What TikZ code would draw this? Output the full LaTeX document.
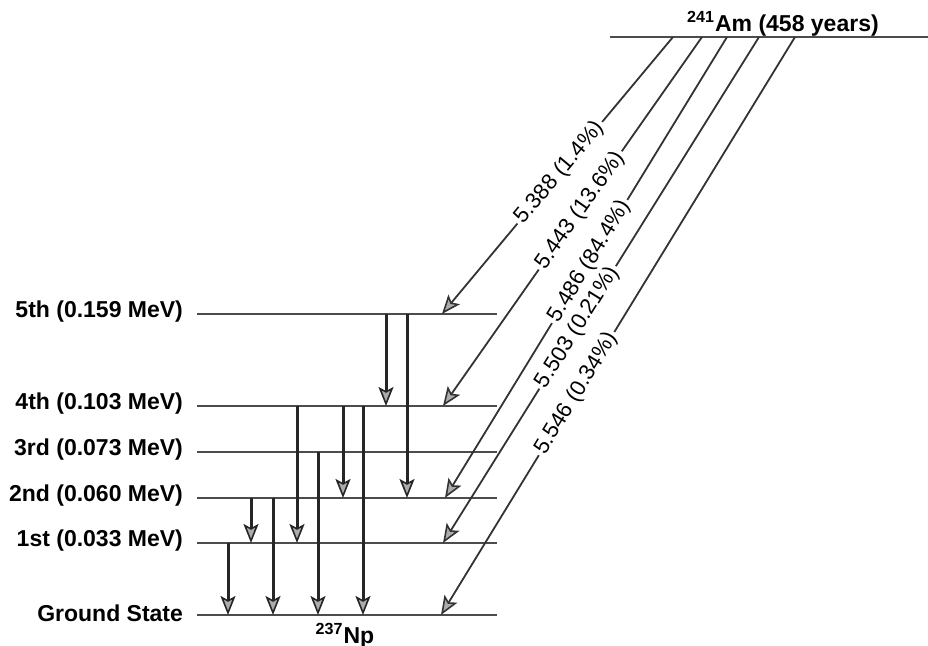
\documentclass[tikz,border=0pt]{standalone}
\usepackage{fontspec}
\setmainfont{Liberation Sans}
\usepackage{xcolor}
\usepackage{tikz}
\usetikzlibrary{arrows.meta}

\definecolor{lvlgray}{gray}{0.3}
\tikzset{
  level/.style={line width=1.3pt,draw=lvlgray},
  gam/.style={line width=1.5pt,draw=black!85,-{Stealth[length=9.5pt,width=7.5pt,inset=2pt,line width=0.8pt,fill=gray!65]}},
  alf/.style={line width=0.9pt,draw=black!80,-{Stealth[length=9.5pt,width=7.5pt,inset=2pt,line width=0.8pt,fill=gray!65]}},
  lvllab/.style={anchor=east,font=\fontsize{11.5}{13}\selectfont\bfseries},
  elab/.style={sloped,fill=white,inner sep=1.5pt,font=\fontsize{11}{13}\selectfont}
}

\begin{document}
\begin{tikzpicture}[x=0.5pt,y=-0.5pt]
\useasboundingbox (0,0) rectangle (928,646);
% daughter levels of 237Np
\foreach \n/\y/\t in {g/615/Ground State,a/543/1st (0.033 MeV),b/498/2nd (0.060 MeV),c/452/3rd (0.073 MeV),d/406/4th (0.103 MeV),e/314/5th (0.159 MeV)}{
  \draw[level](197,\y)coordinate(\n)--(497,\y);
  \node[lvllab](l\n)at(190,\y-2){\t};
}
\node[font=\fontsize{11.5}{13}\selectfont\bfseries](np)at(345,636){\textsuperscript{237}Np};
% parent level
\draw[level](610,37)coordinate(am)--(928,37);
\node[font=\fontsize{11.5}{13}\selectfont\bfseries](amlab)at(783,24){\textsuperscript{241}Am (458 years)};
% alpha decays
\draw[alf](673,37)--node[elab,pos=0.49]{5.388 (1.4\%)}(442,314);
\draw[alf](702,37)--node[elab,pos=0.47]{5.443 (13.6\%)}(443,406);
\draw[alf](727,37)--node[elab,pos=0.487]{5.486 (84.4\%)}(445,498);
\draw[alf](759,37)--node[elab,pos=0.574]{5.503 (0.21\%)}(443,543);
\draw[alf](795,37)--node[elab,pos=0.617]{5.546 (0.34\%)}(441,615);
% gamma transitions
\foreach \x/\from/\to in {386/314/406,407/314/498,297/406/543,343/406/498,363/406/615,318/452/615,251/498/543,273/498/615,228/543/615}
  \draw[gam](\x,\from)--(\x,\to);
\end{tikzpicture}
\end{document}
